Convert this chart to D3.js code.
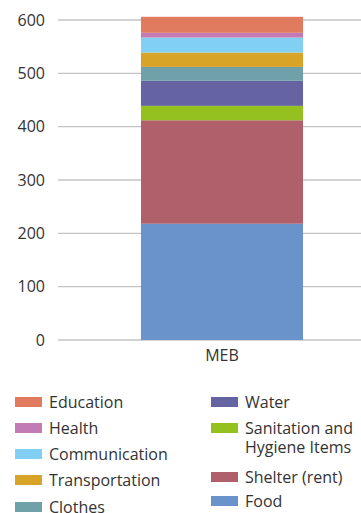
<!DOCTYPE html>
<html>
<head>
<meta charset="utf-8">
<script src="https://cdn.jsdelivr.net/npm/d3@7"></script>
<style>
  body { margin: 0; background: #fff; }
  svg { display: block; font-family: "Open Sans", sans-serif; }
</style>
</head>
<body>
<div id="chart"></div>
<script>
// data, bottom to top
const categories = ["MEB"];
const seriesNames = ["Food", "Shelter (rent)", "Sanitation and Hygiene Items", "Water", "Clothes",
    "Transportation", "Communication", "Health", "Education"];
const seriesValues = [218, 194, 27, 47, 26, 27, 28, 9, 30];
const seriesColors = ["#6b93cb", "#b0606a", "#94c11f", "#6663a3", "#70a0aa",
    "#d8a427", "#81d0f3", "#c27bb5", "#e07b60"];
const yTicks = [0, 100, 200, 300, 400, 500, 600];

// legend layout (two columns, as in the picture)
const legendLeft = ["Education", "Health", "Communication", "Transportation", "Clothes"];
const legendRight = ["Water", "Sanitation and Hygiene Items", "Shelter (rent)", "Food"];

const width = 361, height = 513;
const margin = { top: 20, right: 0, bottom: 173, left: 58 };

const svg = d3.select("#chart").append("svg")
    .attr("width", width)
    .attr("height", height);

const color = d3.scaleOrdinal().domain(seriesNames).range(seriesColors);

// plot area is cut off at the right edge, so the band is centred a bit right
const x = d3.scaleBand()
    .domain(categories)
    .range([margin.left, 386])
    .paddingInner(0)
    .paddingOuter(0.512);

const y = d3.scaleLinear()
    .domain([0, 600])
    .range([height - margin.bottom, margin.top]);

// gridlines
svg.append("g")
    .selectAll("line")
    .data(yTicks)
    .join("line")
    .attr("x1", margin.left)
    .attr("x2", width)
    .attr("y1", d => y(d))
    .attr("y2", d => y(d))
    .attr("stroke", "#c4c4c4")
    .attr("stroke-width", 1.3);

// y axis labels
const yAxis = svg.append("g")
    .attr("transform", `translate(${margin.left - 13},0)`)
    .call(d3.axisLeft(y).tickValues(yTicks).tickSize(0).tickPadding(0));
yAxis.select(".domain").remove();
yAxis.selectAll("text")
    .attr("font-family", "Open Sans, sans-serif")
    .attr("font-size", 16)
    .attr("fill", "#333");

// stacked bar
const row = { cat: "MEB" };
seriesNames.forEach((s, i) => row[s] = seriesValues[i]);
const stack = d3.stack().keys(seriesNames)([row]);

svg.append("g")
    .selectAll("rect")
    .data(stack)
    .join("rect")
    .attr("x", x("MEB"))
    .attr("width", x.bandwidth())
    .attr("y", d => y(d[0][1]))
    .attr("height", d => y(d[0][0]) - y(d[0][1]))
    .attr("fill", d => color(d.key));

// x axis label
const xAxis = svg.append("g")
    .attr("transform", `translate(0,${height - margin.bottom})`)
    .call(d3.axisBottom(x).tickSize(0).tickPadding(10));
xAxis.select(".domain").remove();
xAxis.selectAll("text")
    .attr("font-family", "Open Sans, sans-serif")
    .attr("font-size", 16)
    .attr("fill", "#333");

// legend
function drawLegend(items, x0, rowYs) {
    const g = svg.append("g");
    items.forEach((name, i) => {
        const yy = rowYs[i];
        g.append("rect")
            .attr("x", x0)
            .attr("y", yy - 5)
            .attr("width", 27)
            .attr("height", 10)
            .attr("fill", color(name));
        const words = name === "Sanitation and Hygiene Items"
            ? ["Sanitation and", "Hygiene Items"] : [name];
        const t = g.append("text")
            .attr("x", x0 + 34)
            .attr("y", yy)
            .attr("font-size", 16)
            .attr("fill", "#333");
        words.forEach((w, j) => {
            t.append("tspan")
                .attr("x", x0 + 34)
                .attr("dy", j === 0 ? "0.35em" : "1.2em")
                .text(w);
        });
    });
}
drawLegend(legendLeft, 15, [402, 428, 454, 480, 507]);
drawLegend(legendRight, 211, [402, 428, 477, 501]);
</script>
</body>
</html>
